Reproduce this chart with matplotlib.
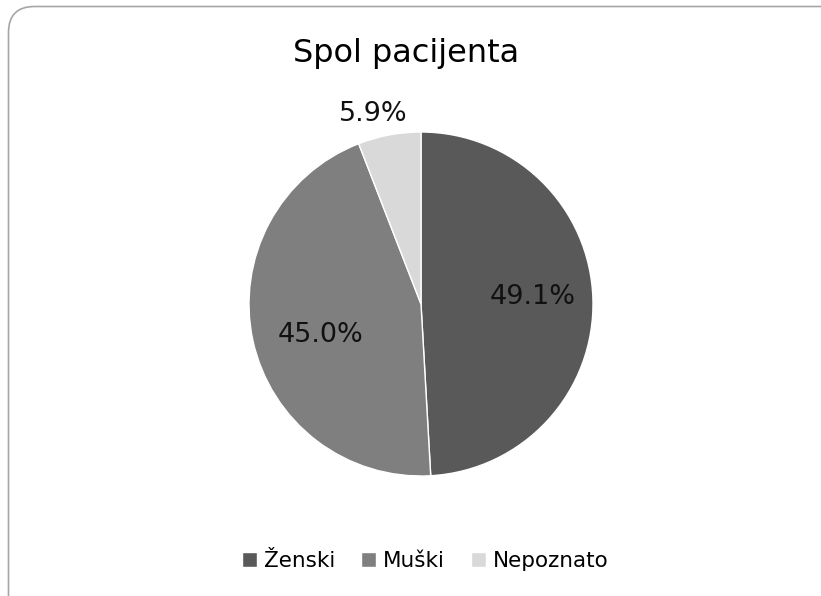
import numpy as np
import matplotlib
matplotlib.use("Agg")
import matplotlib.pyplot as plt
from matplotlib.patches import FancyBboxPatch
from matplotlib.transforms import IdentityTransform

# data
labels = ["Ženski", "Muški", "Nepoznato"]
values = [49.1, 45.0, 5.9]
colors = ["#595959", "#7f7f7f", "#d9d9d9"]
title = "Spol pacijenta"

W, H = 821, 596
fig = plt.figure(figsize=(W / 100, H / 100), dpi=100)
plt.rcParams["font.family"] = ["DejaVu Sans"]

# rounded frame around the chart area (right/bottom run off the image)
frame = FancyBboxPatch((8.5, -30), 840, 589 + 30.5,
                       boxstyle="round,pad=0,rounding_size=26",
                       transform=IdentityTransform(),
                       facecolor="none", edgecolor="#a6a6a6", linewidth=1.2,
                       zorder=-1)
fig.add_artist(frame)

# pie axes: centre (421, 304) px, radius 172 px
cx, cy, r = 421, 304, 172
ax = fig.add_axes([(cx - r) / W, (H - cy - r) / H, 2 * r / W, 2 * r / H])
wedges, texts, autotexts = ax.pie(values, colors=colors, startangle=90,
                                  counterclock=False, autopct="%.1f%%",
                                  pctdistance=0.62,
                                  wedgeprops=dict(edgecolor="white", linewidth=1),
                                  textprops=dict(fontsize=19.5, color="#111111"))
ax.set_xlim(-1, 1)
ax.set_ylim(-1, 1)
ax.set_aspect("auto")

# label placement: distance from centre (in radii) and a small pixel nudge
label_dist = [0.62, 0.62, 1.14]
nudge_px = [(5, 4), (4, -8), (-12, -3)]
for w, t, d, (nx, ny) in zip(wedges, autotexts, label_dist, nudge_px):
    mid = np.deg2rad((w.theta1 + w.theta2) / 2)
    t.set_position((d * np.cos(mid) + nx / r, d * np.sin(mid) + ny / r))

fig.text(406 / W, 1 - 62 / H, title, ha="center", va="baseline", fontsize=23)

fig.legend(wedges, labels, loc="center", bbox_to_anchor=(425 / W, 1 - 561 / H),
           ncol=3, frameon=False, fontsize=15.5, handlelength=0.72,
           handleheight=0.72, handletextpad=0.3, columnspacing=1.2)

fig.savefig("out.png", dpi=100)
